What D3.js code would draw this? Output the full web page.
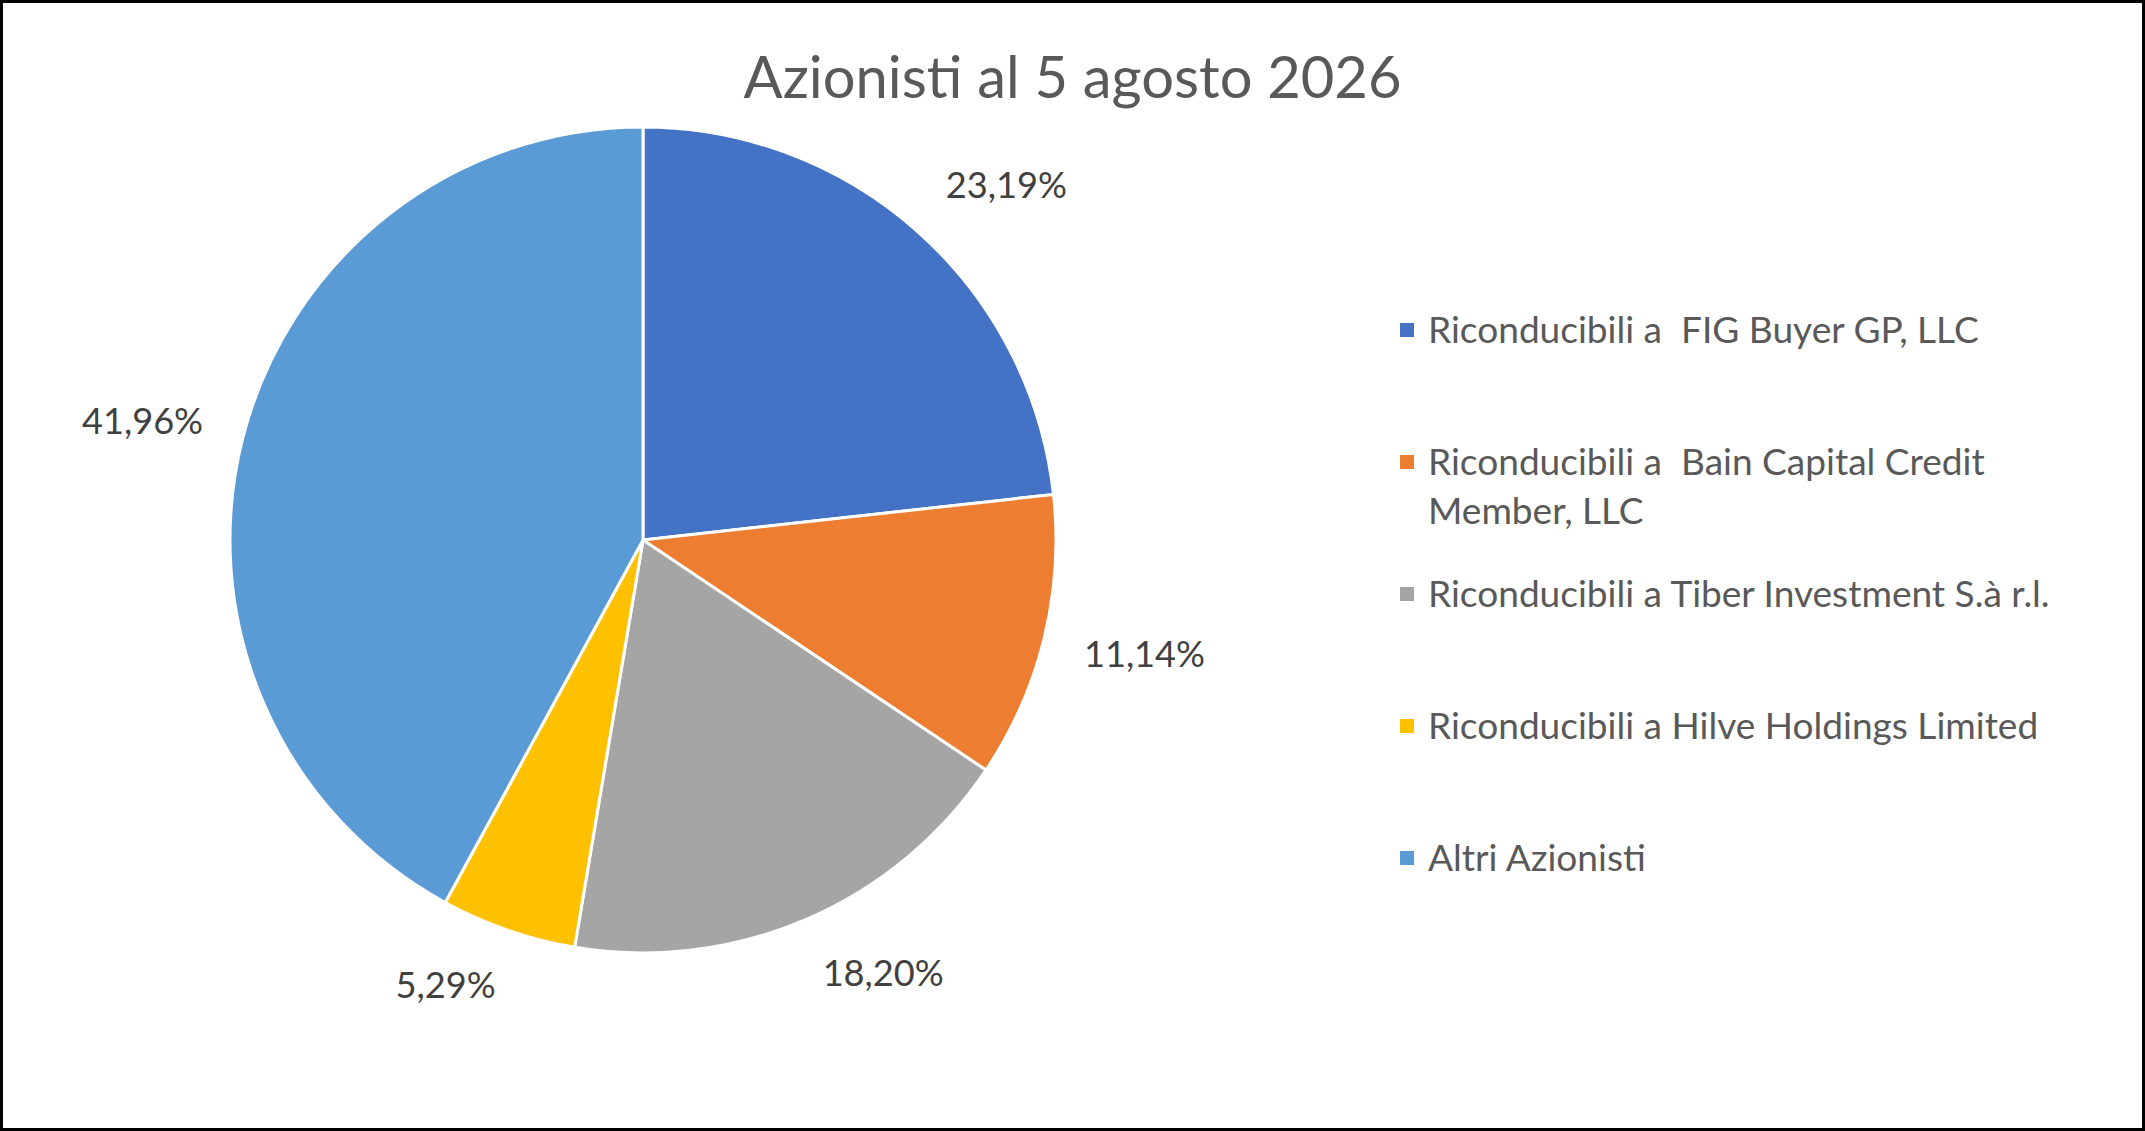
<!DOCTYPE html>
<html><head><meta charset="utf-8">
<script src="https://cdn.jsdelivr.net/npm/d3@7"></script>
<style>html,body{margin:0;padding:0;background:#fff;} svg{display:block;} text{white-space:pre;}</style>
</head><body>
<svg id="chart" width="2145" height="1131"></svg>
<script>
const chartTitle = "Azionisti al 5 agosto 2026";
const categories = [
  "Riconducibili a  FIG Buyer GP, LLC",
  "Riconducibili a  Bain Capital Credit Member, LLC",
  "Riconducibili a Tiber Investment S.à r.l.",
  "Riconducibili a Hilve Holdings Limited",
  "Altri Azionisti"
];
const values = [23.19, 11.14, 18.20, 5.29, 41.96];
const valueLabels = ["23,19%", "11,14%", "18,20%", "5,29%", "41,96%"];
const colors = ["#4472C4", "#ED7D31", "#A5A5A5", "#FFC000", "#5B9BD5"];

const W = 2145, H = 1131;
const FONT = "Lato, 'Open Sans', sans-serif";
const svg = d3.select("#chart");

svg.append("rect").attr("x", 1.5).attr("y", 1.5).attr("width", W - 3).attr("height", H - 3)
  .attr("fill", "#fff").attr("stroke", "#000").attr("stroke-width", 3);

// title (fit to reference width to emulate Calibri metrics)
const titleEl = svg.append("text").text(chartTitle)
  .attr("x", W / 2).attr("y", 98).attr("text-anchor", "middle")
  .attr("font-family", FONT).attr("font-size", 64).attr("fill", "#595959");
const k = 658 / titleEl.node().getComputedTextLength();
titleEl.attr("font-size", 64 * k);

// pie
const cx = 643, cy = 540, r = 413;
const color = d3.scaleOrdinal().domain(categories).range(colors);
const arcs = d3.pie().sort(null).value(d => d.v)(values.map((v, i) => ({v, i})));
const arc = d3.arc().innerRadius(0).outerRadius(r);

const g = svg.append("g").attr("transform", `translate(${cx},${cy})`);
g.selectAll("path").data(arcs).join("path")
  .attr("d", arc)
  .attr("fill", d => color(categories[d.data.i]))
  .attr("stroke", "#fff").attr("stroke-width", 3).attr("stroke-linejoin", "round");

// outside-end style labels: nearest box corner placed a gap away from the arc
const labelFs = 40 * k, gap = 41, boxH = 33;
const clamp = v => Math.max(-1, Math.min(1, v));
g.selectAll("text.lbl").data(arcs).join("text").attr("class", "lbl")
  .attr("text-anchor", "middle").attr("dy", "0.35em")
  .attr("font-family", FONT).attr("font-size", labelFs).attr("fill", "#404040")
  .text(d => valueLabels[d.data.i])
  .attr("transform", function(d) {
    const a = (d.startAngle + d.endAngle) / 2;
    const s = Math.sin(a), c = -Math.cos(a);
    const w = this.getComputedTextLength();
    const x = (r + gap) * s + (w / 2) * clamp(3 * s);
    const y = (r + gap) * c + (boxH / 2) * clamp(1.5 * c);
    return `translate(${x},${y})`;
  });

// legend
const ly = d3.scalePoint().domain(categories).range([330, 858]);
const legendX = 1400, textX = 1428, maxW = 690, lineH = 49;
const lg = svg.append("g");
categories.forEach((c, i) => {
  const y = ly(c);
  lg.append("rect").attr("x", legendX).attr("y", y - 7).attr("width", 14).attr("height", 14)
    .attr("fill", colors[i]);
  const t = lg.append("text").attr("x", textX).attr("y", y)
    .attr("font-family", FONT).attr("font-size", 41 * k).attr("fill", "#595959");
  const words = c.split(" ");
  let line = "", lines = [];
  const probe = lg.append("text").attr("font-family", FONT).attr("font-size", 41 * k);
  words.forEach((w, j) => {
    const test = j === 0 ? w : line + " " + w;
    probe.text(test);
    if (probe.node().getComputedTextLength() > maxW && line.trim() !== "") {
      lines.push(line); line = w;
    } else line = test;
  });
  lines.push(line);
  probe.remove();
  lines.forEach((ln, li) => {
    t.append("tspan").attr("x", textX).attr("dy", li === 0 ? "0.35em" : lineH).text(ln);
  });
});
</script>
</body></html>
